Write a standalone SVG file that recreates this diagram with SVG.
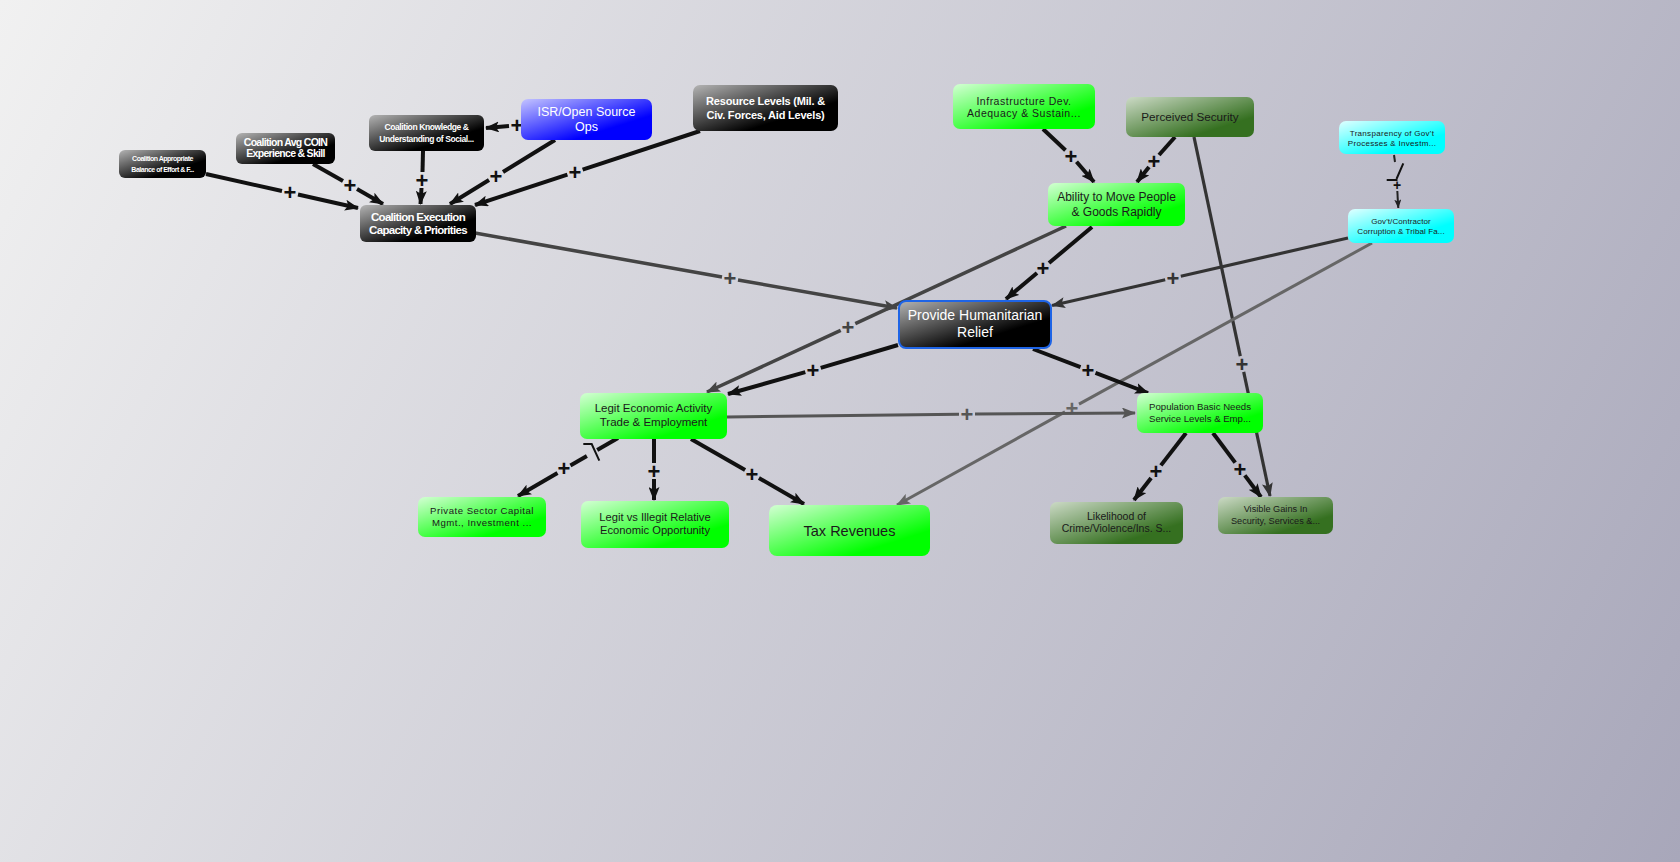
<svg xmlns="http://www.w3.org/2000/svg" width="1680" height="862" viewBox="0 0 1680 862">
<defs>
<linearGradient id="bg" gradientUnits="userSpaceOnUse" x1="0" y1="0" x2="1680" y2="862">
<stop offset="0" stop-color="#f1f1f1"/><stop offset="1" stop-color="#a8a7ba"/>
</linearGradient>
<linearGradient id="gBlack" x1="0" y1="0" x2="1" y2="1"><stop offset="0" stop-color="#b4b4b4"/><stop offset="0.68" stop-color="#000"/></linearGradient>
<linearGradient id="gGreen" x1="0" y1="0" x2="1" y2="1"><stop offset="0" stop-color="#d4ffd4"/><stop offset="0.75" stop-color="#00ff00"/></linearGradient>
<linearGradient id="gDark" x1="0" y1="0" x2="1" y2="1"><stop offset="0" stop-color="#ccdac6"/><stop offset="0.75" stop-color="#357020"/></linearGradient>
<linearGradient id="gCyan" x1="0" y1="0" x2="1" y2="1"><stop offset="0" stop-color="#e0ffff"/><stop offset="0.7" stop-color="#00ffff"/></linearGradient>
<linearGradient id="gBlue" x1="0" y1="0" x2="1" y2="1"><stop offset="0" stop-color="#c4c4ff"/><stop offset="0.7" stop-color="#0000ff"/></linearGradient>
<marker id="a111" markerUnits="userSpaceOnUse" markerWidth="14" markerHeight="11" refX="13" refY="5.5" orient="auto"><path d="M0,0 L14,5.5 L0,11 L3,5.5 z" fill="#111"/></marker>
<marker id="a333" markerUnits="userSpaceOnUse" markerWidth="14" markerHeight="11" refX="13" refY="5.5" orient="auto"><path d="M0,0 L14,5.5 L0,11 L3,5.5 z" fill="#333"/></marker>
<marker id="a444" markerUnits="userSpaceOnUse" markerWidth="14" markerHeight="11" refX="13" refY="5.5" orient="auto"><path d="M0,0 L14,5.5 L0,11 L3,5.5 z" fill="#444"/></marker>
<marker id="a555" markerUnits="userSpaceOnUse" markerWidth="14" markerHeight="11" refX="13" refY="5.5" orient="auto"><path d="M0,0 L14,5.5 L0,11 L3,5.5 z" fill="#555"/></marker>
<marker id="a666" markerUnits="userSpaceOnUse" markerWidth="14" markerHeight="11" refX="13" refY="5.5" orient="auto"><path d="M0,0 L14,5.5 L0,11 L3,5.5 z" fill="#666"/></marker>
<marker id="aSmall" markerUnits="userSpaceOnUse" markerWidth="9" markerHeight="7" refX="8.5" refY="3.5" orient="auto"><path d="M0,0 L9,3.5 L0,7 L2,3.5 z" fill="#222"/></marker>
</defs>
<style>
.e{fill:none;stroke-linecap:butt}
.k{stroke:#111;stroke-width:4}
.k3{stroke:#333;stroke-width:3.2}
.g4{stroke:#444;stroke-width:3.5}
.g5{stroke:#555;stroke-width:3}
.g6{stroke:#666;stroke-width:3}
.pl{font-family:"Liberation Sans",Arial,sans-serif;font-weight:bold;font-size:22px;text-anchor:middle;dominant-baseline:central}
.nb rect{fill:url(#gBlack)}
.ng rect{fill:url(#gGreen)}
.nd rect{fill:url(#gDark)}
.nc rect{fill:url(#gCyan)}
.nu rect{fill:url(#gBlue)}
.t{font-family:"Liberation Sans",Arial,sans-serif;text-anchor:middle}
.w{fill:#fff}
.d{fill:#1a1a1a}
.bd{font-weight:bold}
</style>
<rect x="0" y="0" width="1680" height="862" fill="url(#bg)"/>

<g id="connectors">
<!-- Balance -> Execution -->
<line class="e k" x1="206" y1="174" x2="282" y2="191"/><line class="e k" x1="298" y1="194.5" x2="358" y2="208" marker-end="url(#a111)"/>
<text class="pl" x="290" y="192.5" fill="#111">+</text>
<!-- COIN -> Execution -->
<line class="e k" x1="313" y1="164" x2="343" y2="181"/><line class="e k" x1="357" y1="189" x2="383" y2="204" marker-end="url(#a111)"/>
<text class="pl" x="350" y="185" fill="#111">+</text>
<!-- Knowledge -> Execution -->
<line class="e k" x1="423" y1="151" x2="422.5" y2="172"/><line class="e k" x1="421.5" y1="188" x2="420.5" y2="204" marker-end="url(#a111)"/>
<text class="pl" x="422" y="180" fill="#111">+</text>
<!-- ISR -> Knowledge -->
<line class="e k" x1="509" y1="126" x2="486" y2="128" marker-end="url(#a111)"/>
<text class="pl" x="517" y="125" fill="#111">+</text>
<!-- ISR -> Execution -->
<line class="e k" x1="555" y1="140" x2="503" y2="172"/><line class="e k" x1="489" y1="180" x2="450" y2="204" marker-end="url(#a111)"/>
<text class="pl" x="496" y="176" fill="#111">+</text>
<!-- Resource -> Execution -->
<line class="e k" x1="700" y1="131" x2="582.6" y2="169.6"/><line class="e k" x1="567.4" y1="174.6" x2="475" y2="205" marker-end="url(#a111)"/>
<text class="pl" x="575" y="172" fill="#111">+</text>
<!-- Execution -> PHR -->
<line class="e g4" x1="475" y1="233" x2="722" y2="277"/><line class="e g4" x1="738" y1="280" x2="897" y2="308" marker-end="url(#a444)"/>
<text class="pl" x="730" y="278" fill="#444">+</text>
<!-- Ability -> Legit Economic -->
<line class="e g4" x1="1066" y1="226" x2="855.3" y2="323.6"/><line class="e g4" x1="840.7" y1="330.4" x2="707" y2="392" marker-end="url(#a444)"/>
<text class="pl" x="848" y="327" fill="#444">+</text>
<!-- Ability -> PHR -->
<line class="e k" x1="1092" y1="227" x2="1049" y2="263"/><line class="e k" x1="1037" y1="273" x2="1006" y2="299" marker-end="url(#a111)"/>
<text class="pl" x="1043" y="268" fill="#111">+</text>
<!-- Infrastructure -> Ability -->
<line class="e k" x1="1043" y1="129" x2="1065.5" y2="150.2"/><line class="e k" x1="1076.5" y1="161.8" x2="1094" y2="182" marker-end="url(#a111)"/>
<text class="pl" x="1071" y="156" fill="#111">+</text>
<!-- Perceived -> Ability -->
<line class="e k" x1="1175" y1="137" x2="1159" y2="155"/><line class="e k" x1="1149" y1="167" x2="1137" y2="182" marker-end="url(#a111)"/>
<text class="pl" x="1154" y="161" fill="#111">+</text>
<!-- Perceived -> Visible Gains -->
<line class="e k3" x1="1194" y1="137" x2="1240.3" y2="356.2"/><line class="e k3" x1="1243.7" y1="371.8" x2="1270" y2="496" marker-end="url(#a333)"/>
<text class="pl" x="1242" y="364" fill="#333">+</text>
<!-- Transparency -> Gov't (delayed) -->
<line class="e" stroke="#222" stroke-width="2" x1="1394" y1="155" x2="1395" y2="162"/>
<path d="M1403.3,163.3 L1396.5,179 M1386.7,180 L1397.5,180" fill="none" stroke="#111" stroke-width="2"/>
<line class="e" stroke="#222" stroke-width="2" x1="1397.3" y1="191" x2="1398.3" y2="208" marker-end="url(#aSmall)"/>
<text class="pl" x="1397" y="185" fill="#111" style="font-size:14px">+</text>
<!-- Gov't -> PHR -->
<line class="e k3" x1="1348" y1="238" x2="1180.8" y2="276.2"/><line class="e k3" x1="1165.2" y1="279.8" x2="1052" y2="305.5" marker-end="url(#a333)"/>
<text class="pl" x="1173" y="278" fill="#333">+</text>
<!-- Gov't -> Tax Revenues -->
<line class="e g6" x1="1372" y1="243" x2="1079" y2="404.1"/><line class="e g6" x1="1065" y1="411.9" x2="897" y2="505" marker-end="url(#a666)"/>
<text class="pl" x="1072" y="408" fill="#666">+</text>
<!-- PHR -> Legit Economic -->
<line class="e k" x1="898" y1="345" x2="820.7" y2="367.8"/><line class="e k" x1="805.3" y1="372.2" x2="728" y2="394" marker-end="url(#a111)"/>
<text class="pl" x="813" y="370" fill="#111">+</text>
<!-- Legit Economic -> Population -->
<line class="e g5" x1="727" y1="417" x2="959" y2="414.2"/><line class="e g5" x1="975" y1="414" x2="1135" y2="413" marker-end="url(#a555)"/>
<text class="pl" x="967" y="414" fill="#555">+</text>
<!-- PHR -> Population -->
<line class="e k" x1="1033" y1="349" x2="1080.5" y2="367.1"/><line class="e k" x1="1095.5" y1="372.9" x2="1148" y2="393" marker-end="url(#a111)"/>
<text class="pl" x="1088" y="370" fill="#111">+</text>
<!-- Population -> Likelihood -->
<line class="e k" x1="1186" y1="433" x2="1160.9" y2="465.4"/><line class="e k" x1="1151.1" y1="478" x2="1134" y2="500" marker-end="url(#a111)"/>
<text class="pl" x="1156" y="471.5" fill="#111">+</text>
<!-- Population -> Visible Gains -->
<line class="e k" x1="1213" y1="433" x2="1235.2" y2="462.6"/><line class="e k" x1="1244.8" y1="475.4" x2="1261" y2="497" marker-end="url(#a111)"/>
<text class="pl" x="1240" y="469" fill="#111">+</text>
<!-- Legit Economic -> Private Sector (delayed) -->
<line class="e k" x1="618" y1="438" x2="597.2" y2="450"/>
<path d="M583.3,444 L591.7,444 L599.3,460.7" fill="none" stroke="#111" stroke-width="2"/>
<line class="e k" x1="586.9" y1="456.1" x2="570.4" y2="465.6"/><line class="e k" x1="557.5" y1="473.1" x2="518" y2="496" marker-end="url(#a111)"/>
<text class="pl" x="564" y="468" fill="#111">+</text>
<!-- Legit Economic -> Legit vs Illegit -->
<line class="e k" x1="654" y1="439" x2="654" y2="463"/><line class="e k" x1="654" y1="479" x2="654" y2="500" marker-end="url(#a111)"/>
<text class="pl" x="654" y="471" fill="#111">+</text>
<!-- Legit Economic -> Tax Revenues -->
<line class="e k" x1="691" y1="439" x2="745.1" y2="470"/><line class="e k" x1="758.9" y1="478" x2="804" y2="504" marker-end="url(#a111)"/>
<text class="pl" x="752" y="474" fill="#111">+</text>
</g>

<g id="n_balance" class="nb"><rect x="119" y="150" width="87" height="28" rx="6"/>
<text class="t w bd" font-size="7" letter-spacing="-0.5" x="162.5" y="161">Coalition Appropriate</text>
<text class="t w bd" font-size="7" letter-spacing="-0.5" x="162.5" y="171.5">Balance of Effort &amp; F...</text></g>

<g id="n_coin" class="nb"><rect x="236" y="133" width="99" height="31" rx="6"/>
<text class="t w bd" font-size="10.5" letter-spacing="-0.7" x="285.5" y="145.7">Coalition Avg COIN</text>
<text class="t w bd" font-size="10.5" letter-spacing="-0.7" x="285.5" y="157.4">Experience &amp; Skill</text></g>

<g id="n_knowledge" class="nb"><rect x="369" y="115" width="115" height="36" rx="6"/>
<text class="t w bd" font-size="8.5" letter-spacing="-0.4" x="426.5" y="130.3">Coalition Knowledge &amp;</text>
<text class="t w bd" font-size="8.5" letter-spacing="-0.4" x="426.5" y="142.3">Understanding of Social...</text></g>

<g id="n_execution" class="nb"><rect x="360" y="205" width="116" height="37" rx="6"/>
<text class="t w bd" font-size="11.5" letter-spacing="-0.7" x="418" y="221.3">Coalition Execution</text>
<text class="t w bd" font-size="11.5" letter-spacing="-0.7" x="418" y="234">Capacity &amp; Priorities</text></g>

<g id="n_isr" class="nu"><rect x="521" y="99" width="131" height="41" rx="7"/>
<text class="t w" font-size="12.5" x="586.5" y="116.2">ISR/Open Source</text>
<text class="t w" font-size="12.5" x="586.5" y="130.9">Ops</text></g>

<g id="n_resource" class="nb"><rect x="693" y="85" width="145" height="46" rx="7"/>
<text class="t w bd" font-size="11" letter-spacing="-0.2" x="765.5" y="105.2">Resource Levels (Mil. &amp;</text>
<text class="t w bd" font-size="11" letter-spacing="-0.2" x="765.5" y="118.6">Civ. Forces, Aid Levels)</text></g>

<g id="n_infra" class="ng"><rect x="953" y="84" width="142" height="45" rx="7"/>
<text class="t d" font-size="10.5" letter-spacing="0.5" x="1024" y="104.6">Infrastructure Dev.</text>
<text class="t d" font-size="10.5" letter-spacing="0.5" x="1024" y="117.2">Adequacy &amp; Sustain...</text></g>

<g id="n_perceived" class="nd"><rect x="1126" y="97" width="128" height="40" rx="7"/>
<text class="t d" font-size="11.7" x="1190" y="120.9">Perceived Security</text></g>

<g id="n_ability" class="ng"><rect x="1048" y="183" width="137" height="43" rx="7"/>
<text class="t d" font-size="12" x="1116.5" y="201.2">Ability to Move People</text>
<text class="t d" font-size="12" x="1116.5" y="215.9">&amp; Goods Rapidly</text></g>

<g id="n_transparency" class="nc"><rect x="1339" y="121" width="106" height="33" rx="7"/>
<text class="t d" font-size="8" letter-spacing="0.3" x="1392" y="135.7">Transparency of Gov't</text>
<text class="t d" font-size="8" letter-spacing="0.3" x="1392" y="146.3">Processes &amp; Investm...</text></g>

<g id="n_govt" class="nc"><rect x="1348" y="209" width="106" height="34" rx="7"/>
<text class="t d" font-size="8" letter-spacing="0.1" x="1401" y="224">Gov't/Contractor</text>
<text class="t d" font-size="8" letter-spacing="0.1" x="1401" y="234.3">Corruption &amp; Tribal Fa...</text></g>

<g id="n_phr" class="nb"><rect x="899" y="301" width="152" height="47" rx="7" stroke="#1e64e6" stroke-width="2"/>
<text class="t w" font-size="14" x="975" y="319.9">Provide Humanitarian</text>
<text class="t w" font-size="14" x="975" y="336.6">Relief</text></g>

<g id="n_population" class="ng"><rect x="1137" y="393" width="126" height="40" rx="7"/>
<text class="t d" font-size="9.6" x="1200" y="410.1">Population Basic Needs</text>
<text class="t d" font-size="9.6" x="1200" y="421.7">Service Levels &amp; Emp...</text></g>

<g id="n_legit" class="ng"><rect x="580" y="393" width="147" height="46" rx="7"/>
<text class="t d" font-size="11.5" x="653.5" y="412">Legit Economic Activity</text>
<text class="t d" font-size="11.5" x="653.5" y="426">Trade &amp; Employment</text></g>

<g id="n_private" class="ng"><rect x="418" y="497" width="128" height="40" rx="7"/>
<text class="t d" font-size="9.6" letter-spacing="0.5" x="482" y="514.2">Private Sector Capital</text>
<text class="t d" font-size="9.6" letter-spacing="0.5" x="482" y="526.2">Mgmt., Investment ...</text></g>

<g id="n_legitvs" class="ng"><rect x="581" y="501" width="148" height="47" rx="7"/>
<text class="t d" font-size="11.2" x="655" y="520.6">Legit vs Illegit Relative</text>
<text class="t d" font-size="11.2" x="655" y="534">Economic Opportunity</text></g>

<g id="n_tax" class="ng"><rect x="769" y="505" width="161" height="51" rx="8"/>
<text class="t d" font-size="14.5" x="849.5" y="535.8">Tax Revenues</text></g>

<g id="n_likelihood" class="nd"><rect x="1050" y="502" width="133" height="42" rx="7"/>
<text class="t d" font-size="10.5" x="1116.5" y="519.7">Likelihood of</text>
<text class="t d" font-size="10.5" x="1116.5" y="532.4">Crime/Violence/Ins. S...</text></g>

<g id="n_visible" class="nd"><rect x="1218" y="497" width="115" height="37" rx="7"/>
<text class="t d" font-size="9.2" x="1275.5" y="511.5">Visible Gains In</text>
<text class="t d" font-size="9.2" x="1275.5" y="523.9">Security, Services &amp;...</text></g>
</svg>
